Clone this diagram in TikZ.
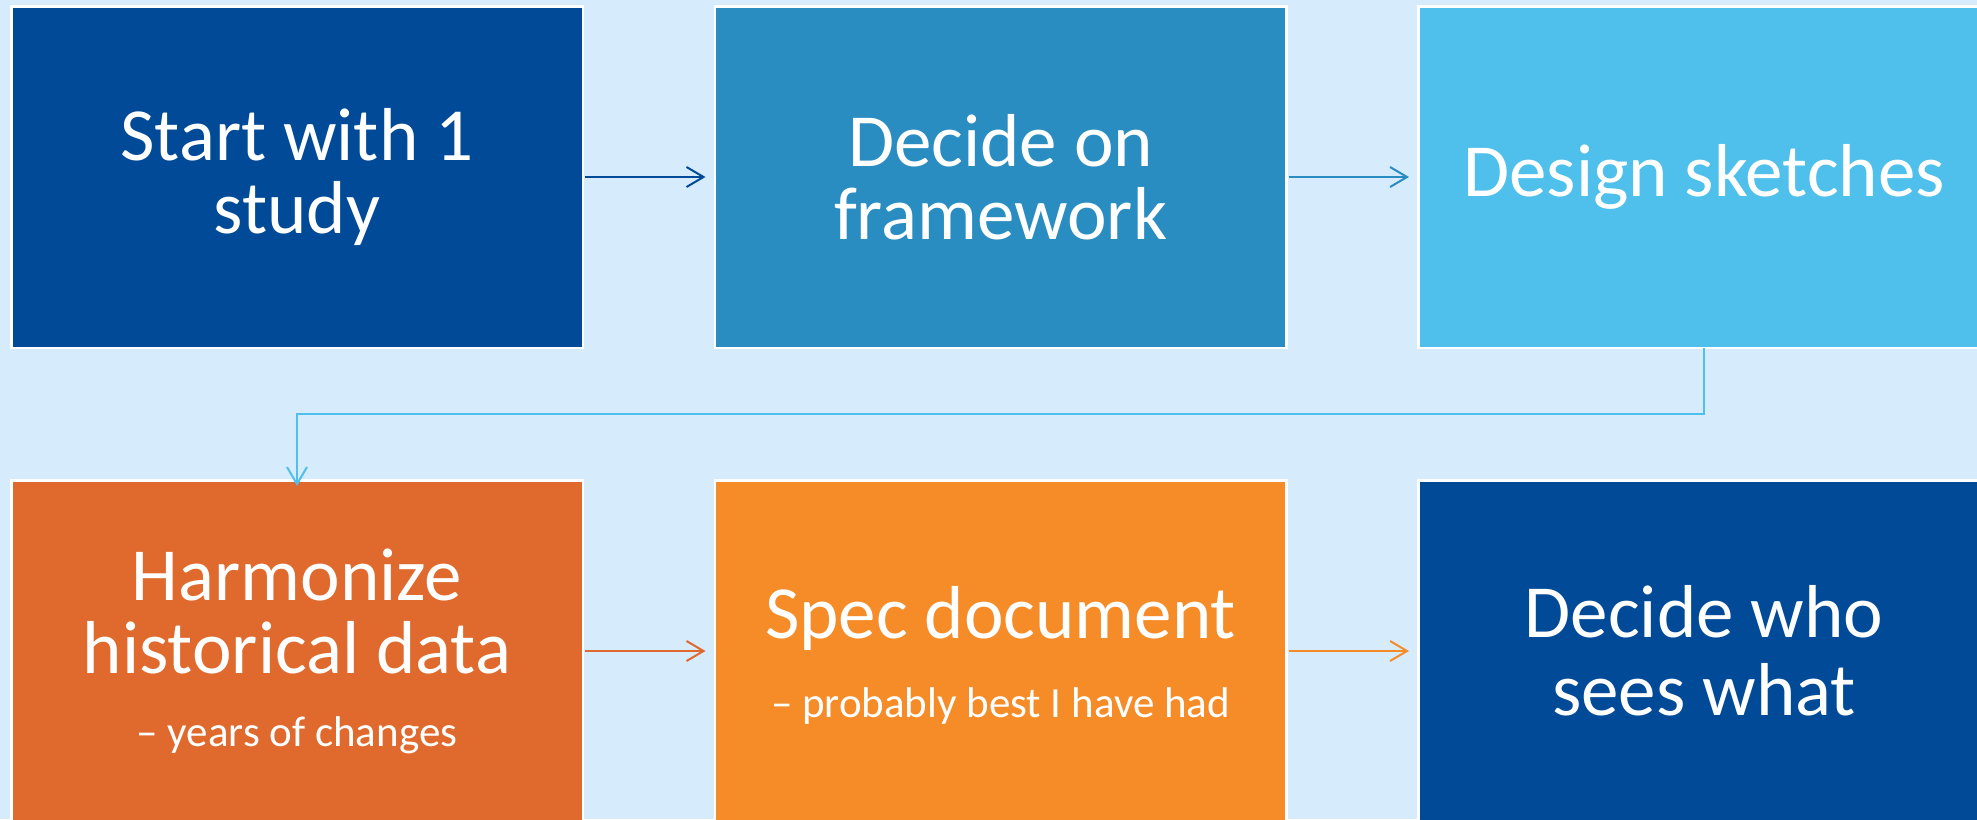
\documentclass[tikz,border=0pt]{standalone}
\usepackage{fontspec}
\setmainfont{Carlito}
\usetikzlibrary{arrows.meta}
\definecolor{bg}{RGB}{214,235,252}
\definecolor{dblue}{RGB}{0,74,151}
\definecolor{mblue}{RGB}{41,141,194}
\definecolor{lblue}{RGB}{78,192,235}
\definecolor{orA}{RGB}{224,105,45}
\definecolor{orB}{RGB}{246,140,40}
\tikzset{
  stepbox/.style={draw=white, line width=2.5pt, minimum width=571.5pt, minimum height=341.5pt, inner sep=0pt, text=white, align=center, font=\fontsize{75}{73}\selectfont},
  steptext/.style={inner sep=0pt, text=white, align=center, font=\fontsize{75}{73}\selectfont},
  conn/.style={line width=2pt, -{Straight Barb[length=17pt,width=20pt,line width=2pt]}}
}
\newcommand{\sub}[1]{{\fontsize{43}{46}\selectfont #1}}
\begin{document}
\begin{tikzpicture}[x=1pt,y=-1pt]
\fill[bg] (0,0) rectangle (1977,819);
\useasboundingbox (0,0) rectangle (1977,819);
\node[stepbox, fill=dblue] (b1) at (297,177) {Start with 1\\study};
\node[stepbox, fill=mblue] (b2) at (1000.5,177) {Decide on\\framework};
\node[stepbox, fill=lblue] (b3) at (1704,177) {Design sketches};
\node[stepbox, fill=orA] (b4) at (297,651) {Harmonize\\historical data\\[0pt]\sub{– years of changes}};
\node[stepbox, fill=orB] (b5) at (1000.5,651) {};
\node[steptext] (b5t) at ([yshift=-4pt]b5.center) {Spec document\\[6pt]\sub{– probably best I have had}};
\node[stepbox, fill=dblue, font=\fontsize{75}{78}\selectfont] (b6) at (1704,651) {Decide who\\sees what};
\draw[conn, dblue] ([xshift=1pt]b1.east) -- ([xshift=-8pt]b2.west);
\draw[conn, mblue] ([xshift=1pt]b2.east) -- ([xshift=-8pt]b3.west);
\draw[conn, orA] ([xshift=1pt]b4.east) -- ([xshift=-8pt]b5.west);
\draw[conn, orB] ([xshift=1pt]b5.east) -- ([xshift=-8pt]b6.west);
\coordinate (t1) at (1704,414);
\draw[conn, lblue] ([yshift=1pt]b3.south) -- (t1) -- (297,414) -- ([yshift=-7pt]b4.north);
\end{tikzpicture}
\end{document}
